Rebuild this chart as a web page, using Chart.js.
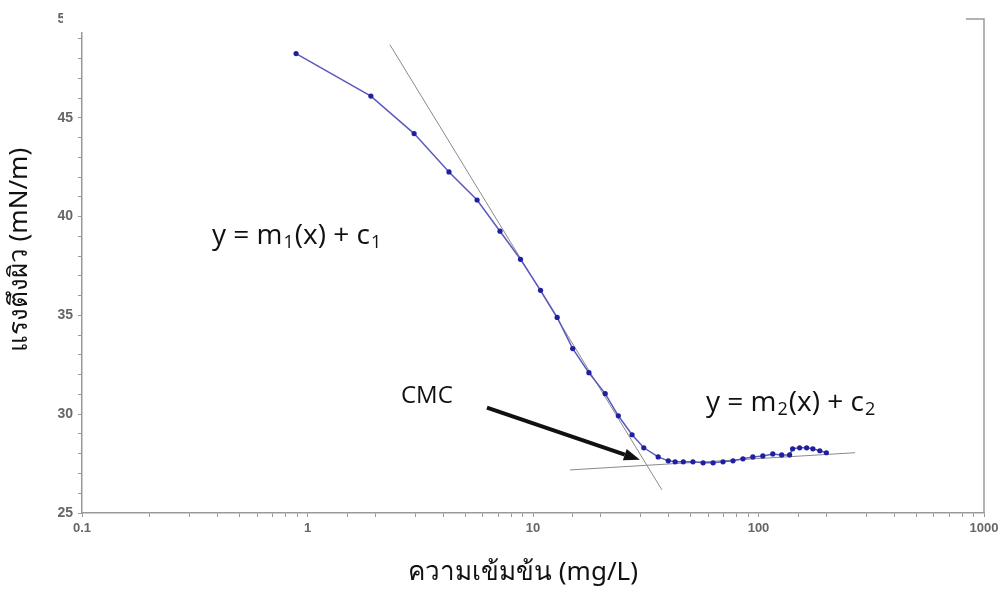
<!DOCTYPE html>
<html>
<head>
<meta charset="utf-8">
<script src="https://cdn.jsdelivr.net/npm/chart.js@4.4.1/dist/chart.umd.min.js"></script>
<style>
  body { margin: 0; background: #fff; }
  #wrap { width: 1008px; height: 591px; position: relative; }
</style>
</head>
<body>
<div id="wrap"><canvas id="myChart" width="1008" height="591"></canvas></div>
<script>
// concentracion (mg/L) y tension superficial (mN/m)
const concentracion = [0.89, 1.91, 2.97, 4.24, 5.65, 7.14, 8.8, 10.8, 12.8, 15.0, 17.7, 20.9, 23.9, 27.5, 31.0, 35.9, 39.8, 42.7, 46.4, 51.2, 56.8, 62.9, 69.6, 77.1, 85.3, 94.4, 104.5, 115.7, 126.7, 137.4, 141.7, 152.2, 163.5, 174.2, 187, 200];
const tension = [48.25, 46.1, 44.2, 42.26, 40.84, 39.26, 37.84, 36.27, 34.9, 33.32, 32.1, 31.04, 29.92, 28.96, 28.3, 27.84, 27.64, 27.59, 27.59, 27.59, 27.54, 27.54, 27.59, 27.64, 27.74, 27.84, 27.89, 27.99, 27.94, 27.94, 28.25, 28.3, 28.3, 28.25, 28.15, 28.05];

// las dos rectas tangentes (extremos)
const recta1X = [2.32, 37.3];
const recta1Y = [48.7, 26.17];
const recta2X = [14.6, 268];
const recta2Y = [27.18, 28.05];

// flecha CMC (inicio, punta)
const flechaX = [6.25, 29.8];
const flechaY = [30.33, 27.69];

const xTicks = [0.1, 1, 10, 100, 1000];
const yTicks = [25, 30, 35, 40, 45, 50];

const yTitle = "แรงตึงผิว (mN/m)";
const xTitle = "ความเข้มข้น (mg/L)";

function juntar(xs, ys) {
    return xs.map((x, i) => ({ x: x, y: ys[i] }));
}

// escribe "y = m1(x) + c1" con subindices
function ecuacion(ctx, x, y, n) {
    let partes = [["y = m", false], [n, true], ["(x) + c", false], [n, true]];
    partes.forEach(p => {
        if (p[1]) {
            ctx.font = "18px 'Open Sans', 'Noto Sans', sans-serif";
            ctx.fillText(p[0], x + 1, y + 7);
            x += ctx.measureText(p[0]).width + 2;
        } else {
            ctx.font = "28px 'Open Sans', 'Noto Sans', sans-serif";
            ctx.fillText(p[0], x, y);
            x += ctx.measureText(p[0]).width;
        }
    });
}

const extras = {
    id: "extras",
    afterDraw(chart) {
        const ctx = chart.ctx;
        const sx = chart.scales.x;
        const sy = chart.scales.y;
        const area = chart.chartArea;
        ctx.save();

        // marco derecho y de arriba
        ctx.strokeStyle = "#999";
        ctx.lineWidth = 1.5;
        ctx.beginPath();
        ctx.moveTo(area.left, area.top);
        ctx.lineTo(area.right, area.top);
        ctx.lineTo(area.right, area.bottom);
        ctx.stroke();

        // el recuadro blanco que tapa arriba en la imagen original
        ctx.fillStyle = "#fff";
        ctx.fillRect(63, 0, 903, 32);

        // flecha
        let x0 = sx.getPixelForValue(flechaX[0]), y0 = sy.getPixelForValue(flechaY[0]);
        let x1 = sx.getPixelForValue(flechaX[1]), y1 = sy.getPixelForValue(flechaY[1]);
        let ang = Math.atan2(y1 - y0, x1 - x0);
        let largo = 16;
        ctx.strokeStyle = "#111";
        ctx.fillStyle = "#111";
        ctx.lineWidth = 4;
        ctx.beginPath();
        ctx.moveTo(x0, y0);
        ctx.lineTo(x1 - largo * Math.cos(ang), y1 - largo * Math.sin(ang));
        ctx.stroke();
        ctx.beginPath();
        ctx.moveTo(x1, y1);
        ctx.lineTo(x1 - largo * Math.cos(ang) + 6 * Math.sin(ang), y1 - largo * Math.sin(ang) - 6 * Math.cos(ang));
        ctx.lineTo(x1 - largo * Math.cos(ang) - 6 * Math.sin(ang), y1 - largo * Math.sin(ang) + 6 * Math.cos(ang));
        ctx.closePath();
        ctx.fill();

        // textos
        ctx.fillStyle = "#111";
        ctx.textBaseline = "middle";
        ctx.textAlign = "left";
        ecuacion(ctx, 212, 236, "1");
        ecuacion(ctx, 706, 403, "2");
        ctx.font = "24px 'Open Sans', 'Noto Sans', sans-serif";
        ctx.fillText("CMC", 401, 396);

        // titulos de ejes
        ctx.font = "26px 'Noto Sans', 'Open Sans', sans-serif";
        ctx.textAlign = "center";
        ctx.fillText(xTitle, 523, 573);
        ctx.translate(20, 250);
        ctx.rotate(-Math.PI / 2);
        ctx.fillText(yTitle, 0, 0);
        ctx.restore();
    }
};

const data = {
    datasets: [
        {
            label: "tension",
            data: juntar(concentracion, tension),
            showLine: true,
            borderColor: "#5a5ac0",
            borderWidth: 1.5,
            backgroundColor: "#1f1fa0",
            pointBackgroundColor: "#1f1fa0",
            pointBorderWidth: 0,
            pointRadius: 2.6
        },
        {
            label: "recta1",
            data: juntar(recta1X, recta1Y),
            showLine: true,
            borderColor: "#8a8a8a",
            borderWidth: 1,
            pointRadius: 0
        },
        {
            label: "recta2",
            data: juntar(recta2X, recta2Y),
            showLine: true,
            borderColor: "#8a8a8a",
            borderWidth: 1,
            pointRadius: 0
        }
    ]
};

const config = {
    type: "scatter",
    data: data,
    plugins: [extras],
    options: {
        responsive: false,
        animation: false,
        layout: { padding: { top: 19, right: 24, left: 0, bottom: 0 } },
        plugins: { legend: { display: false }, tooltip: { enabled: false } },
        scales: {
            x: {
                type: "logarithmic",
                min: 0.1,
                max: 1000,
                afterFit: (s) => { s.height = 78; },
                border: { display: true, color: "#999", width: 1.5 },
                grid: { drawOnChartArea: false, drawTicks: true, tickLength: 4, color: "#999" },
                ticks: {
                    autoSkip: false,
                    maxRotation: 0,
                    padding: 4,
                    color: "#666",
                    font: { family: "'Liberation Sans', Arial", size: 13, weight: "bold" },
                    callback: (v) => {
                        let l = Math.log10(v);
                        if (Math.abs(l - Math.round(l)) < 1e-6 && xTicks.includes(Number(v.toPrecision(3)))) return String(Number(v.toPrecision(3)));
                        return "";
                    }
                }
            },
            y: {
                min: 25,
                max: 50,
                afterFit: (s) => { s.width = 82; },
                border: { display: true, color: "#999", width: 1.5 },
                grid: { drawOnChartArea: false, drawTicks: true, tickLength: 4, color: "#999" },
                ticks: {
                    stepSize: 1,
                    autoSkip: false,
                    padding: 5,
                    color: "#666",
                    font: { family: "'Liberation Sans', Arial", size: 14, weight: "bold" },
                    callback: (v) => yTicks.includes(v) ? String(v) : ""
                }
            }
        }
    }
};

window.onload = () => {
    const myChart = new Chart("myChart", config);
}
</script>
</body>
</html>
